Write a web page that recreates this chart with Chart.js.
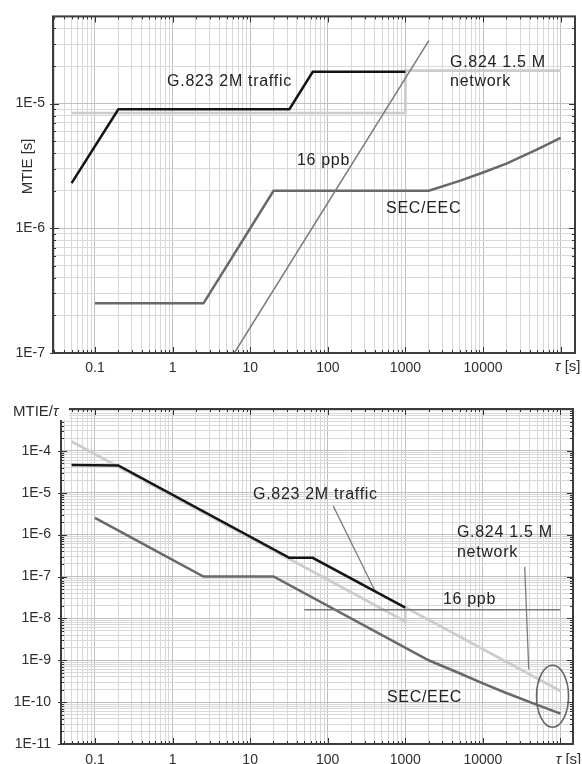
<!DOCTYPE html>
<html><head><meta charset="utf-8">
<script src="https://cdn.jsdelivr.net/npm/chart.js@4"></script>
<style>
html,body{margin:0;padding:0;background:#fff;}
#wrap{position:relative;width:582px;height:764px;overflow:hidden;}
#c1{position:absolute;left:0;top:0;}
#c2{position:absolute;left:0;top:380px;}
</style></head><body>
<div id="wrap"><canvas id="c1" width="582" height="380"></canvas><canvas id="c2" width="582" height="384"></canvas></div>
<script>
// ---------- DATA ----------
const tauTickValues = [0.1, 1, 10, 100, 1000, 10000];
const tauTickLabels = ['0.1', '1', '10', '100', '1000', '10000'];
const mtieTickValues = [1e-7, 1e-6, 1e-5];
const mtieTickLabels = ['1E-7', '1E-6', '1E-5'];
const normTickValues = [1e-11, 1e-10, 1e-9, 1e-8, 1e-7, 1e-6, 1e-5, 1e-4];
const normTickLabels = ['1E-11', '1E-10', '1E-9', '1E-8', '1E-7', '1E-6', '1E-5', '1E-4'];

// top chart: MTIE [s]
const g823Tau  = [0.05, 0.2, 32, 64, 1000];
const g823Mtie = [2.3e-6, 9e-6, 9e-6, 1.8e-5, 1.8e-5];
const g824Tau  = [0.05, 1000, 1000, 100000];
const g824Mtie = [8.4e-6, 8.4e-6, 1.84e-5, 1.84e-5];
const ppbTau   = [6.25, 2000];
const ppbMtie  = [1e-7, 3.2e-5];
const secTau   = [0.1, 2.5, 20, 2000, 5000, 10000, 20000, 50000, 100000];
const secMtie  = [2.5e-7, 2.5e-7, 2e-6, 2e-6, 2.4e-6, 2.8e-6, 3.3e-6, 4.3e-6, 5.3e-6];

// bottom chart: MTIE / tau
const g823NormTau = [0.05, 0.2, 32, 64, 1000];
const g823Norm    = [4.6e-5, 4.5e-5, 2.8e-7, 2.8e-7, 1.8e-8];
const g824NormTau = [0.05, 1000, 1000, 100000];
const g824Norm    = [1.68e-4, 8.4e-9, 1.84e-8, 1.84e-10];
const ppbNormTau  = [50, 100000];
const ppbNorm     = [1.6e-8, 1.6e-8];
const secNormTau  = [0.1, 2.5, 20, 2000, 5000, 10000, 20000, 50000, 100000];
const secNorm     = [2.5e-6, 1e-7, 1e-7, 1e-9, 4.9e-10, 2.8e-10, 1.65e-10, 8.6e-11, 5.3e-11];
const leader1Tau  = [118, 410];
const leader1Val  = [4.8e-6, 4.4e-8];
const leader2Tau  = [34600, 39000];
const leader2Val  = [1.7e-7, 6.0e-10];

// ---------- HELPERS ----------
const FONT = "'Liberation Sans', Arial, Helvetica, sans-serif";
Chart.defaults.font.family = FONT;
Chart.defaults.color = '#2e2e2e';

function logTicks(min, max) {
  const out = [];
  for (let e = Math.floor(Math.log10(min)); e <= Math.ceil(Math.log10(max)); e++) {
    for (let s = 1; s <= 9; s++) {
      const v = parseFloat((s * Math.pow(10, e)).toPrecision(3));
      if (v >= min * 0.9999 && v <= max * 1.0001) out.push({value: v, major: s === 1});
    }
  }
  return out;
}
function isMajor(v) {
  const l = Math.log10(v);
  return Math.abs(l - Math.round(l)) < 1e-6;
}
function labelFor(v, vals, labels) {
  for (let i = 0; i < vals.length; i++) {
    if (Math.abs(Math.log10(v) - Math.log10(vals[i])) < 1e-6) return labels[i];
  }
  return '';
}
function pts(xs, ys) { return xs.map((x, i) => ({x: x, y: ys[i]})); }
function ds(xs, ys, color, w) {
  return {data: pts(xs, ys), showLine: true, pointRadius: 0, borderColor: color,
          backgroundColor: color, borderWidth: w, fill: false, tension: 0};
}
function gridColor(ctx) {
  if (!ctx.tick) return '#d8d8d8';
  return isMajor(ctx.tick.value) ? '#c0c0c0' : '#d8d8d8';
}
function xAxis(min, max, h, pad) {
  return {
    type: 'logarithmic', min: min, max: max, position: 'bottom',
    afterBuildTicks: s => { s.ticks = logTicks(s.min, s.max); },
    afterFit: s => { s.height = h; },
    grid: {drawTicks: false, lineWidth: 1, color: gridColor},
    border: {display: false},
    ticks: {autoSkip: false, maxRotation: 0, minRotation: 0, padding: pad,
            font: {size: 14}, color: '#2e2e2e',
            callback: v => labelFor(v, tauTickValues, tauTickLabels)}
  };
}
function yAxis(min, max, w, pad, vals, labels) {
  return {
    type: 'logarithmic', min: min, max: max, position: 'left',
    afterBuildTicks: s => { s.ticks = logTicks(s.min, s.max); },
    afterFit: s => { s.width = w; },
    grid: {drawTicks: false, lineWidth: 1, color: gridColor},
    border: {display: false},
    ticks: {autoSkip: false, padding: pad, font: {size: 14}, color: '#2e2e2e',
            callback: v => labelFor(v, vals, labels)}
  };
}

const decor = {
  id: 'decor',
  afterDraw(chart, args, o) {
    const ctx = chart.ctx, a = chart.chartArea, x = chart.scales.x, y = chart.scales.y;
    ctx.save();
    // inward tick marks on all four sides
    ctx.strokeStyle = '#333'; ctx.lineWidth = 1;
    ctx.beginPath();
    x.ticks.forEach(t => {
      const p = Math.round(x.getPixelForValue(t.value)) + 0.5;
      const L = isMajor(t.value) ? 6 : 3;
      ctx.moveTo(p, a.bottom); ctx.lineTo(p, a.bottom - L);
      ctx.moveTo(p, a.top); ctx.lineTo(p, a.top + L);
    });
    y.ticks.forEach(t => {
      const p = Math.round(y.getPixelForValue(t.value)) + 0.5;
      const L = isMajor(t.value) ? 6 : 3;
      ctx.moveTo(a.left, p); ctx.lineTo(a.left + L, p);
      ctx.moveTo(a.right, p); ctx.lineTo(a.right - L, p);
      if (isMajor(t.value)) { ctx.moveTo(a.left, p); ctx.lineTo(a.left - 3, p); }
    });
    ctx.stroke();
    // frame
    ctx.strokeStyle = '#3c3c3c'; ctx.lineWidth = 2;
    ctx.strokeRect(a.left, a.top, a.width, a.height);
    // ellipse
    if (o.ellipse) {
      const e = o.ellipse;
      ctx.strokeStyle = '#666'; ctx.lineWidth = 1.6;
      ctx.beginPath();
      ctx.ellipse(x.getPixelForValue(e.x), y.getPixelForValue(e.y), e.rx, e.ry, 0, 0, Math.PI * 2);
      ctx.stroke();
    }
    // annotation texts
    ctx.fillStyle = '#222';
    ctx.font = '16px ' + FONT;
    ctx.textAlign = 'left'; ctx.textBaseline = 'middle';
    try { ctx.letterSpacing = '0.7px'; } catch (err) {}
    (o.texts || []).forEach(t => {
      ctx.fillText(t.t, x.getPixelForValue(t.x), y.getPixelForValue(t.y));
    });
    try { ctx.letterSpacing = '0px'; } catch (err) {}
    // tau axis label at the 1e5 tick
    const tx = x.getPixelForValue(100000) + o.tauDx;
    const ty = a.bottom + o.tauDy;
    ctx.fillStyle = '#2e2e2e';
    ctx.textBaseline = 'middle';
    ctx.font = 'italic 15px ' + FONT;
    const wT = ctx.measureText('τ').width;
    ctx.font = '15px ' + FONT;
    const wS = ctx.measureText(' [s]').width;
    let sx = tx - (wT + wS) / 2;
    ctx.textAlign = 'left';
    ctx.font = 'italic 15px ' + FONT; ctx.fillText('τ', sx, ty);
    ctx.font = '15px ' + FONT; ctx.fillText(' [s]', sx + wT, ty);
    // y-axis title
    if (o.yTitle === 'rot') {
      ctx.save();
      ctx.translate(o.yTitleX, a.top + o.yTitleDy);
      ctx.rotate(-Math.PI / 2);
      ctx.textAlign = 'center';
      ctx.font = '15px ' + FONT;
      ctx.fillText('MTIE [s]', 0, 0);
      ctx.restore();
    } else if (o.yTitle === 'top') {
      ctx.font = '15px ' + FONT;
      const w1 = ctx.measureText('MTIE/').width;
      ctx.font = 'italic 15px ' + FONT;
      const w2 = ctx.measureText('τ').width;
      const lx = o.yTitleX, ly = a.top + o.yTitleDy;
      ctx.fillStyle = '#fff';
      ctx.fillRect(lx - 2, ly - 9, a.left + 10 - lx, 17);
      ctx.fillStyle = '#2e2e2e';
      ctx.textAlign = 'left';
      ctx.font = '15px ' + FONT; ctx.fillText('MTIE/', lx, ly);
      ctx.font = 'italic 15px ' + FONT; ctx.fillText('τ', lx + w1, ly);
    }
    ctx.restore();
  }
};

// ---------- TOP CHART ----------
new Chart(document.getElementById('c1'), {
  type: 'scatter',
  data: {datasets: [
    ds(g823Tau, g823Mtie, '#141414', 2.5),
    ds(ppbTau, ppbMtie, '#7a7a7a', 1.5),
    ds(secTau, secMtie, '#686868', 2.5),
    ds(g824Tau, g824Mtie, '#cccccc', 2.7)
  ]},
  options: {
    responsive: false, animation: false,
    layout: {padding: {top: 12, right: 7, left: 0, bottom: 0}},
    plugins: {
      legend: {display: false}, tooltip: {enabled: false},
      decor: {
        texts: [
          {t: 'G.823 2M traffic', x: 0.85, y: 1.5e-5},
          {t: 'G.824 1.5 M', x: 3760, y: 2.12e-5},
          {t: 'network', x: 3760, y: 1.5e-5},
          {t: '16 ppb', x: 40, y: 3.5e-6},
          {t: 'SEC/EEC', x: 562, y: 1.44e-6}
        ],
        tauDx: 7, tauDy: 14,
        yTitle: 'rot', yTitleX: 28, yTitleDy: 150
      }
    },
    scales: {
      x: xAxis(0.0288, 1.53e5, 27, 7),
      y: yAxis(1e-7, 5e-5, 53, 8, mtieTickValues, mtieTickLabels)
    }
  },
  plugins: [decor]
});

// ---------- BOTTOM CHART ----------
new Chart(document.getElementById('c2'), {
  type: 'scatter',
  data: {datasets: [
    ds(g823NormTau, g823Norm, '#141414', 2.5),
    ds(ppbNormTau, ppbNorm, '#7a7a7a', 1.5),
    ds(secNormTau, secNorm, '#686868', 2.5),
    ds(leader1Tau, leader1Val, '#7e7e7e', 1.3),
    ds(leader2Tau, leader2Val, '#7e7e7e', 1.3),
    ds(g824NormTau, g824Norm, '#cccccc', 2.7)
  ]},
  options: {
    responsive: false, animation: false,
    layout: {padding: {top: 29, right: 9, left: 0, bottom: 0}},
    plugins: {
      legend: {display: false}, tooltip: {enabled: false},
      decor: {
        texts: [
          {t: 'G.823 2M traffic', x: 10.9, y: 9.2e-6},
          {t: 'G.824 1.5 M', x: 4630, y: 1.13e-6},
          {t: 'network', x: 4630, y: 3.75e-7},
          {t: '16 ppb', x: 3050, y: 2.8e-8},
          {t: 'SEC/EEC', x: 580, y: 1.26e-10}
        ],
        ellipse: {x: 79000, y: 1.38e-10, rx: 16, ry: 31},
        tauDx: 8, tauDy: 16,
        yTitle: 'top', yTitleX: 13, yTitleDy: 3
      }
    },
    scales: {
      x: xAxis(0.0365, 1.45e5, 20, 8),
      y: yAxis(1e-11, 1e-3, 61, 10, normTickValues, normTickLabels)
    }
  },
  plugins: [decor]
});
</script>
</body></html>
